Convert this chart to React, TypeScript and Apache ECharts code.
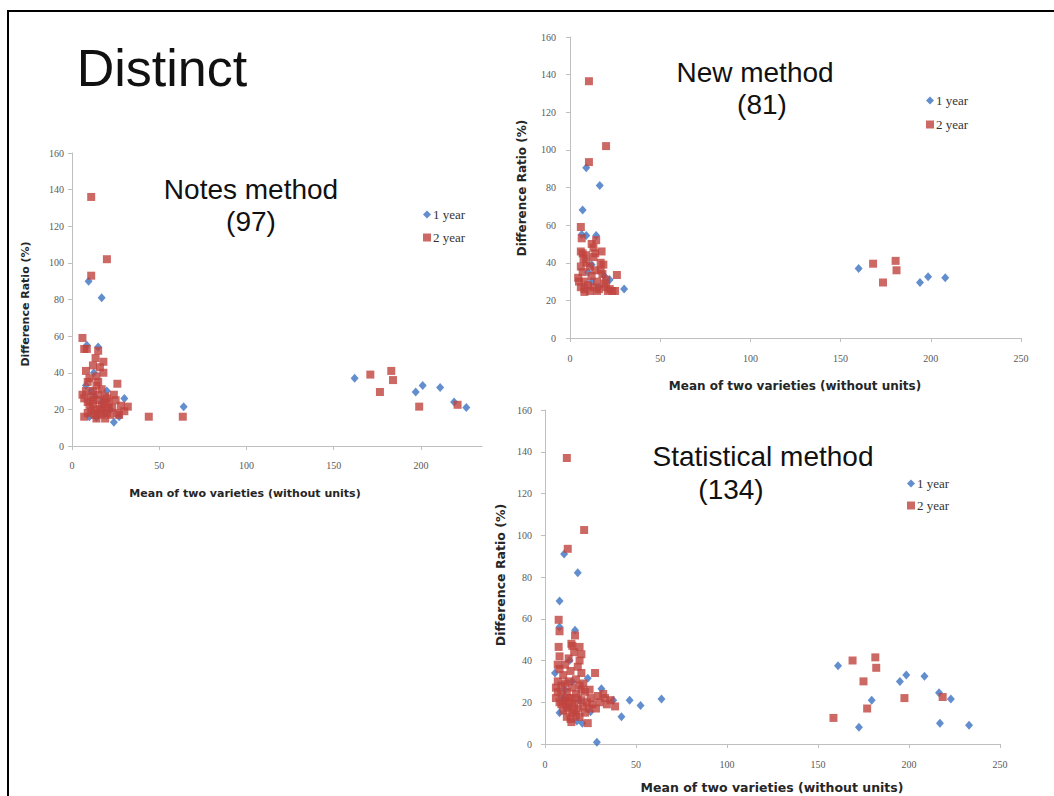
import React, { useEffect, useRef } from "react";
import * as echarts from "echarts";

// ---------- Data ----------
const notesYear1: number[][] = [
  [9.5, 90], [17, 81], [8.5, 55], [15, 54], [12.5, 40], [11, 30], [30, 26], [64, 21.5],
  [24, 13], [27, 16], [10, 16], [14, 15.5], [19, 18], [22, 20], [17, 24], [13, 27], [8, 33], [20, 30],
  [162, 37], [197, 29.5], [201, 33], [211, 32], [219, 24], [226, 21],
];
const notesYear2: number[][] = [
  [11, 136], [20, 102], [11, 93], [6, 59], [7, 53], [8.5, 53], [15, 52], [13.5, 48], [18, 46],
  [16, 43], [8, 41], [12, 44], [18, 40], [9, 35], [15, 35], [26, 34], [10, 37], [14, 38],
  [6, 28], [7, 26], [9, 24], [12, 23], [15, 28], [16, 25], [17, 22], [19, 27], [21, 24],
  [13, 20], [11, 19], [15, 18], [18, 20], [20, 18], [23, 21], [25, 25], [28, 22], [32, 21.5],
  [30, 19], [7, 16], [14, 15], [19, 15], [22, 17], [26, 18], [44, 16], [63.5, 16], [10, 22],
  [12, 30], [17, 31], [14, 33], [20, 26], [24, 28], [9, 18], [16, 20], [21, 21], [27, 17],
  [12, 25], [17, 17], [8, 30], [11, 27], [19, 23], [13, 17],
  [171, 39], [183, 41], [184, 36], [176.5, 29.5], [199, 21.5], [221, 22.5],
];
const newYear1: number[][] = [
  [9, 90.5], [16.5, 81], [7, 68], [6.5, 55], [9, 54.5], [14.5, 54.5], [12, 39], [22, 31],
  [30, 26], [12, 30], [10, 35], [16, 27], [19, 33],
  [160, 37], [194, 29.5], [198.5, 32.5], [208, 32],
];
const newYear2: number[][] = [
  [10.5, 136.5], [20, 102], [10.5, 93.5], [6, 59], [6.5, 53], [14.5, 52], [13, 48], [17.5, 46],
  [6, 46], [18.5, 39], [7.5, 42], [26, 33.5], [23.5, 25], [4.5, 32], [6, 27], [6, 38], [7, 35],
  [8, 30], [8, 26], [9, 44], [9, 40], [10, 28], [11, 25], [12, 33], [13, 43], [14, 36], [15, 30],
  [16, 26], [17, 40], [18, 34], [19, 29], [20, 27], [21, 25], [13, 27], [5, 30], [7, 45],
  [8, 24.5], [11, 38], [15, 25], [17, 36], [14, 45], [22, 26], [20, 31], [25, 25], [12, 50],
  [168, 39.5], [180.5, 41], [181, 36], [173.5, 29.5],
];
const statYear1: number[][] = [
  [10.5, 91], [18, 82], [8, 68.5], [8, 56], [16.5, 54.5], [13.5, 40], [5.5, 34], [23.5, 31.5],
  [31, 26.5], [37.5, 21], [46.5, 21], [52.5, 18.5], [64, 21.5], [42, 13], [28.5, 0.8], [8, 15],
  [17.5, 11], [25, 15.5], [20.5, 10], [10, 22], [15, 30], [12, 18], [19, 21], [11, 26],
  [161, 37.5], [195, 30], [198.5, 33], [208.5, 32.5], [179.5, 21], [216.5, 24.5], [223, 21.5],
  [172.5, 8], [217, 10], [233, 9],
];
const statYear2: number[][] = [
  [12, 137], [21.5, 102.5], [12.5, 93.5], [7.5, 59.5], [8, 54], [16.5, 52], [14.5, 48], [19, 46.5],
  [7.5, 46.5], [19, 40], [27.5, 34], [24.5, 26], [32, 24], [33, 22], [38.5, 18], [23.5, 10],
  [14.5, 10.5], [6, 22], [7, 25], [7, 30], [8, 36], [8, 42], [9, 19], [9, 28], [10, 16], [10, 33],
  [11, 21], [11, 38], [12, 13], [12, 25], [13, 18], [13, 30], [14, 22], [14, 35], [15, 15],
  [15, 27], [16, 19], [16, 44], [17, 24], [17, 31], [18, 17], [18, 37], [19, 28], [20, 21],
  [20, 34], [21, 18], [22, 25], [23, 20], [24, 17], [25, 22], [26, 19], [28, 17], [30, 20],
  [29, 23], [21, 29], [9, 24], [11, 29], [13, 22], [15, 20], [17, 14], [10, 20], [12, 17],
  [14, 12], [16, 16], [19, 13], [22, 15], [8, 20], [6, 27], [7, 38], [18, 22], [20, 26], [34, 19],
  [36, 21], [13, 41], [15, 47], [20, 43],
  [169, 40], [181.5, 41.5], [182, 36.5], [175, 30], [197.5, 22], [218.5, 22.5], [177, 17], [158.5, 12.5],
];

const seriesNames = ["1 year", "2 year"];
const xTicks = [0, 50, 100, 150, 200];
const panelTitles = ["Notes method", "New method", "Statistical method"];
const panelCounts = ["(97)", "(81)", "(134)"];
const xAxisTitle = "Mean of two varieties (without units)";
const yAxisTitle = "Difference Ratio (%)";
const pageTitle = "Distinct";

const BLUE = "#3c72c2";
const RED = "#c0433f";
const AXIS = "#bfbfbf";
const LABEL = "#595959";
const SANS = "Liberation Sans, Arial, sans-serif";
const SERIF = "Liberation Serif, Times New Roman, serif";
const BOLD = "DejaVu Sans, Verdana, sans-serif";

export default function App() {
  const ref = useRef<HTMLDivElement>(null);
  useEffect(() => {
    document.body.style.margin = "0";
    const chart = echarts.init(ref.current!, null, { renderer: "svg" });

    const grids = [
      { left: 72, top: 153, width: 410, height: 293 },
      { left: 570, top: 37, width: 451, height: 301 },
      { left: 545, top: 410, width: 455, height: 334 },
    ];
    const xMax = [235, 250, 250];
    const xMargin = [14, 15, 15];
    const yMargin = [8, 14, 13];

    const xAxes = grids.map((_, i) => ({
      type: "value",
      gridIndex: i,
      min: 0,
      max: xMax[i],
      interval: 50,
      splitLine: { show: false },
      axisLine: { show: true, lineStyle: { color: AXIS, width: 1 } },
      axisTick: i === 0
        ? { show: true, length: 4, lineStyle: { color: AXIS }, customValues: xTicks }
        : { show: true, length: 4, lineStyle: { color: AXIS } },
      axisLabel: i === 0
        ? { margin: xMargin[i], fontSize: 10, color: LABEL, fontFamily: SERIF, customValues: xTicks }
        : { margin: xMargin[i], fontSize: 10, color: LABEL, fontFamily: SERIF },
    }));
    const yAxes = grids.map((_, i) => ({
      type: "value",
      gridIndex: i,
      min: 0,
      max: 160,
      interval: 20,
      splitLine: { show: false },
      axisLine: { show: true, onZero: false, lineStyle: { color: AXIS, width: 1 } },
      axisTick: { show: true, length: 4, lineStyle: { color: AXIS } },
      axisLabel: { margin: yMargin[i], fontSize: 10, color: LABEL, fontFamily: SERIF },
    }));

    const pairs = [
      [notesYear1, notesYear2],
      [newYear1, newYear2],
      [statYear1, statYear2],
    ];
    const series: any[] = [];
    pairs.forEach((p, i) => {
      series.push({
        type: "scatter",
        name: seriesNames[0],
        xAxisIndex: i,
        yAxisIndex: i,
        symbol: "diamond",
        symbolSize: [8, 9],
        itemStyle: { color: BLUE },
        data: p[0],
      });
      series.push({
        type: "scatter",
        name: seriesNames[1],
        xAxisIndex: i,
        yAxisIndex: i,
        symbol: "rect",
        symbolSize: 8,
        itemStyle: { color: RED },
        data: p[1],
      });
    });

    const legendPos = [
      { left: 423, top: 208, itemGap: 10 },
      { left: 926, top: 94, itemGap: 11 },
      { left: 907, top: 477, itemGap: 9 },
    ];
    const legends = legendPos.map((lp) => ({
      orient: "vertical",
      left: lp.left,
      top: lp.top,
      padding: 0,
      itemGap: lp.itemGap,
      itemWidth: 8,
      itemHeight: 8,
      selectedMode: false,
      textStyle: { fontSize: 13, fontFamily: SERIF, color: "#333", padding: [0, 0, 0, -3] },
      data: [
        { name: seriesNames[0], icon: "diamond" },
        { name: seriesNames[1], icon: "rect" },
      ],
    }));

    const titleFont = (size: number) => ({ fontSize: size, fontFamily: SANS, fill: "#111" });
    const txt = (x: number, y: number, text: string, font: any, extra: any = {}) => ({
      type: "text",
      x,
      y,
      style: { text, align: "center", verticalAlign: "middle", ...font },
      ...extra,
    });
    const axisTitleFont = (size: number) => ({
      fontSize: size,
      fontWeight: "bold",
      fontFamily: BOLD,
      fill: "#262626",
    });

    const graphic: any[] = [
      {
        type: "rect",
        shape: { x: 8, y: 11, width: 1200, height: 900 },
        style: { fill: "none", stroke: "#000", lineWidth: 2 },
        silent: true,
      },
      txt(162, 68, pageTitle, titleFont(52)),
      txt(251, 189, panelTitles[0], titleFont(28)),
      txt(251, 221, panelCounts[0], titleFont(28)),
      txt(755, 72, panelTitles[1], titleFont(28)),
      txt(762, 104, panelCounts[1], titleFont(28)),
      txt(763, 456, panelTitles[2], titleFont(28)),
      txt(731, 489, panelCounts[2], titleFont(28)),
      txt(245, 493, xAxisTitle, axisTitleFont(11)),
      txt(795, 386, xAxisTitle, axisTitleFont(12)),
      txt(772, 787, xAxisTitle, axisTitleFont(12.5)),
      txt(25, 304, yAxisTitle, axisTitleFont(11), { rotation: Math.PI / 2 }),
      txt(522, 188, yAxisTitle, axisTitleFont(12), { rotation: Math.PI / 2 }),
      txt(500, 575, yAxisTitle, axisTitleFont(12.5), { rotation: Math.PI / 2 }),
    ];

    chart.setOption({
      animation: false,
      backgroundColor: "#fff",
      grid: grids,
      xAxis: xAxes,
      yAxis: yAxes,
      legend: legends,
      series,
      graphic,
    } as any);

    return () => chart.dispose();
  }, []);

  return <div ref={ref} style={{ width: 1054, height: 796 }} />;
}
